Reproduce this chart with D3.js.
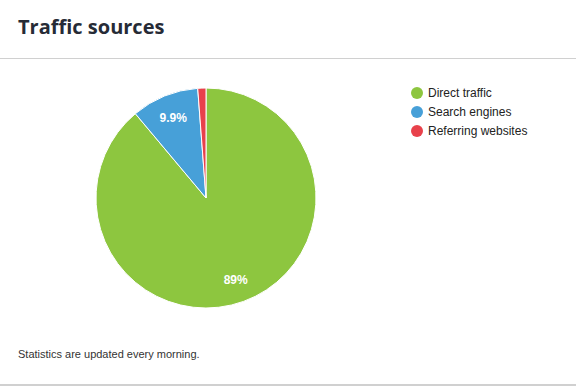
<!DOCTYPE html>
<html>
<head>
<meta charset="utf-8">
<script src="https://cdn.jsdelivr.net/npm/d3@7"></script>
<style>
  body { margin: 0; background: #fff; }
  svg { display: block; }
</style>
</head>
<body>
<svg width="576" height="386"></svg>
<script>
const categories = ["Direct traffic", "Search engines", "Referring websites"]
const values = [88.9, 9.9, 1.2]
const labels = ["89%", "9.9%", ""]
const colors = ["#8dc63f", "#47a0d8", "#e8414b"]

var svg = d3.select("svg"),
	width = +svg.attr("width"),
	height = +svg.attr("height")

// header
svg.append("text")
	.attr("x", 18)
	.attr("y", 34)
	.style("font-family", "'Open Sans', Lato, sans-serif")
	.style("font-weight", "bold")
	.style("font-size", "20px")
	.style("fill", "#262b36")
	.text("Traffic sources")

svg.append("rect").attr("x", 0).attr("y", 58).attr("width", width).attr("height", 1).attr("fill", "#d0d0d0")
svg.append("rect").attr("x", 0).attr("y", 384).attr("width", width).attr("height", 2).attr("fill", "#d0d0d0")

// pie
const cx = 206, cy = 198, r = 110
const pie = d3.pie().sort(null).value(d => d)
const arcs = pie(values)
const arc = d3.arc().innerRadius(0).outerRadius(r)
const labelArc = d3.arc().innerRadius(r * 0.79).outerRadius(r * 0.79)

const g = svg.append("g").attr("transform", "translate(" + cx + "," + cy + ")")

g.selectAll(".slice")
	.data(arcs)
	.enter()
	.append("path")
	.attr("class", "slice")
	.attr("d", arc)
	.attr("fill", (d, i) => colors[i])
	.attr("stroke", "#fff")
	.attr("stroke-width", 1)

g.selectAll(".label")
	.data(arcs)
	.enter()
	.append("text")
	.attr("class", "label")
	.attr("transform", d => "translate(" + labelArc.centroid(d) + ")")
	.attr("text-anchor", "middle")
	.attr("dy", "0.35em")
	.style("font-family", "'Liberation Sans', Arial, sans-serif")
	.style("font-weight", "bold")
	.style("font-size", "12px")
	.style("fill", "#fff")
	.text((d, i) => labels[i])

// legend
const legend = svg.append("g").attr("transform", "translate(417,93)")
const item = legend.selectAll(".item")
	.data(categories)
	.enter()
	.append("g")
	.attr("class", "item")
	.attr("transform", (d, i) => "translate(0," + i * 19 + ")")

item.append("circle")
	.attr("r", 6)
	.attr("fill", (d, i) => colors[i])

item.append("text")
	.attr("x", 11)
	.attr("dy", "0.35em")
	.style("font-family", "'Liberation Sans', Arial, sans-serif")
	.style("font-size", "12px")
	.style("fill", "#222")
	.text(d => d)

// footer
svg.append("text")
	.attr("x", 18)
	.attr("y", 358)
	.style("font-family", "'Liberation Sans', Arial, sans-serif")
	.style("font-size", "11px")
	.style("fill", "#333")
	.text("Statistics are updated every morning.")
</script>
</body>
</html>
